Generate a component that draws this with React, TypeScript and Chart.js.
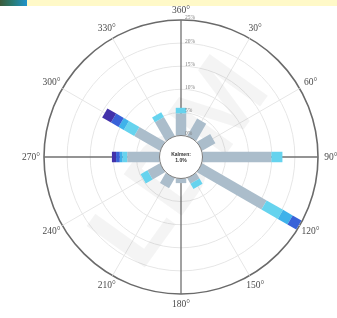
import React, { useEffect, useRef } from "react";
import { Chart, registerables } from "chart.js";

Chart.register(...registerables);

const DIRECTIONS = ["360°", "30°", "60°", "90°", "120°", "150°", "180°", "210°", "240°", "270°", "300°", "330°"];
const TICK_VALUES = [0, 5, 10, 15, 20, 25];
const TICK_LABELS = ["0%", "5%", "10%", "15%", "20%", "25%"];
const CALM_LABEL = "Kalmen:";
const CALM_VALUE = "1.0%";

// speed classes (percent frequency per direction), stacked outward
const CLASS_1 = [4.8, 4.3, 3.3, 14.9, 16.1, 1.4, 1.0, 2.5, 3.1, 7.0, 6.4, 4.7];
const CLASS_2 = [1.2, 0, 0, 2.4, 4.1, 1.3, 0, 0, 1.7, 1.0, 2.6, 1.2];
const CLASS_3 = [0, 0, 0, 0, 2.4, 0, 0, 0, 0, 0.6, 1.3, 0];
const CLASS_4 = [0, 0, 0, 0, 2.2, 0, 0, 0, 0, 0.8, 1.9, 0];
const CLASS_5 = [0, 0, 0, 0, 0, 0, 0, 0, 0, 0.9, 2.2, 0];

const CLASS_COLORS = ["#abbdcb", "#66d3ee", "#3fb2ea", "#3862d8", "#4231aa"];

const barsPlugin = {
  id: "windBars",
  beforeDatasetsDraw(chart: any) {
    const ctx = chart.ctx;
    const s = chart.scales.r;
    ctx.save();
    ctx.translate(s.xCenter + 2, s.yCenter + 8);
    ctx.rotate(-0.95);
    ctx.font = "bold 104px 'Liberation Sans'";
    ctx.fillStyle = "rgba(0,0,0,0.045)";
    ctx.textAlign = "center";
    ctx.textBaseline = "middle";
    ctx.fillText("LDM", 0, 0);
    ctx.restore();
  },
  afterDatasetsDraw(chart: any) {
    const ctx = chart.ctx;
    const s = chart.scales.r;
    ctx.save();
    ctx.lineCap = "butt";
    ctx.lineWidth = 10.5;
    const n = chart.data.labels.length;
    for (let i = 0; i < n; i++) {
      let base = 0;
      chart.data.datasets.forEach((ds: any) => {
        const v = ds.data[i];
        if (v > 0) {
          const p0 = s.getPointPositionForValue(i, base);
          const p1 = s.getPointPositionForValue(i, base + v);
          ctx.strokeStyle = ds.barColor;
          ctx.beginPath();
          ctx.moveTo(p0.x, p0.y);
          ctx.lineTo(p1.x, p1.y);
          ctx.stroke();
        }
        base += v;
      });
    }
    // calm circle
    const rc = s.getDistanceFromCenterForValue(0);
    ctx.beginPath();
    ctx.arc(s.xCenter, s.yCenter, rc, 0, Math.PI * 2);
    ctx.fillStyle = "#ffffff";
    ctx.fill();
    ctx.lineWidth = 1;
    ctx.strokeStyle = "#7a7a7a";
    ctx.stroke();
    ctx.fillStyle = "#333";
    ctx.textAlign = "center";
    ctx.textBaseline = "middle";
    ctx.font = "bold 5px 'Liberation Sans'";
    ctx.fillText(CALM_LABEL, s.xCenter, s.yCenter - 2.5);
    ctx.fillText(CALM_VALUE, s.xCenter, s.yCenter + 3.5);
    // tick labels
    ctx.textAlign = "left";
    ctx.fillStyle = "#808080";
    ctx.font = "5.5px 'Liberation Serif'";
    TICK_VALUES.forEach((v, k) => {
      const r = s.getDistanceFromCenterForValue(v);
      ctx.fillText(TICK_LABELS[k], s.xCenter + 4, s.yCenter - r + 3 - 5);
    });
    // direction labels
    ctx.fillStyle = "#4a4a4a";
    ctx.textAlign = "center";
    ctx.font = "9.5px 'Liberation Serif'";
    for (let i = 0; i < n; i++) {
      const ang = (i * Math.PI * 2) / n;
      const p = s.getPointPosition(i, s.drawingArea + 10 + 3 * Math.abs(Math.sin(ang)));
      ctx.fillText(chart.data.labels[i], p.x, p.y);
    }
    ctx.restore();
  },
};

export default function App() {
  const ref = useRef<HTMLCanvasElement>(null);
  useEffect(() => {
    const classes = [CLASS_1, CLASS_2, CLASS_3, CLASS_4, CLASS_5];
    const chart = new Chart(ref.current as HTMLCanvasElement, {
      type: "radar",
      data: {
        labels: DIRECTIONS,
        datasets: classes.map((d, k) => ({
          label: "class " + (k + 1),
          data: d,
          barColor: CLASS_COLORS[k],
          showLine: false,
          fill: false,
          pointRadius: 0,
          pointHitRadius: 0,
          borderWidth: 0,
        })) as any,
      },
      options: {
        responsive: false,
        animation: false,
        layout: { padding: { left: 44, right: 19, top: 20, bottom: 24 } },
        plugins: { legend: { display: false }, tooltip: { enabled: false } },
        scales: {
          r: {
            min: -4.65,
            max: 25,
            startAngle: 0,
            afterBuildTicks: (sc: any) => {
              sc.ticks = TICK_VALUES.map((v) => ({ value: v }));
            },
            ticks: { display: false },
            pointLabels: { display: false },
            grid: {
              circular: true,
              color: (c: any) => (c.tick && c.tick.value === 25 ? "#6a6a6a" : "#e6e6e6"),
              lineWidth: (c: any) => (c.tick && c.tick.value === 25 ? 1.6 : 1),
            },
            angleLines: {
              color: (c: any) => (c.index % 3 === 0 ? "#707070" : "#e6e6e6"),
              lineWidth: (c: any) => (c.index % 3 === 0 ? 1.3 : 1),
            },
          } as any,
        },
      },
      plugins: [barsPlugin],
    });
    return () => chart.destroy();
  }, []);
  return (
    <div style={{ position: "absolute", left: 0, top: 0, width: 337, height: 318, background: "#fff" }}>
      <div style={{ position: "absolute", left: 0, top: 0, width: 27, height: 6, background: "linear-gradient(90deg,#3c5a3a,#2a7a70 45%,#1f93cc)" }} />
      <div style={{ position: "absolute", left: 27, top: 0, width: 310, height: 6, background: "#fff9c8" }} />
      <canvas ref={ref} width={337} height={318} style={{ position: "absolute", left: 0, top: 0, display: "block" }} />
    </div>
  );
}
